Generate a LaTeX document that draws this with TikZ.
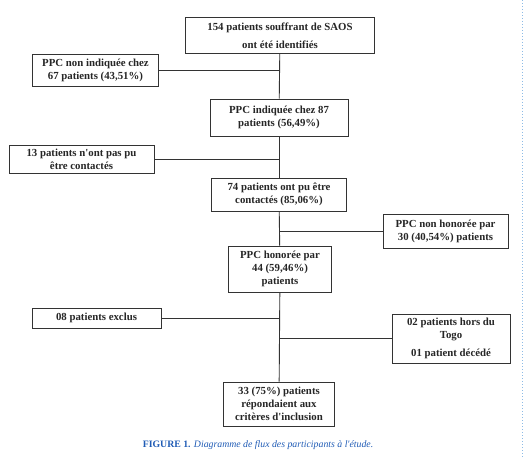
\documentclass[tikz,border=0pt]{standalone}
\usepackage{fontspec}
\setmainfont{Liberation Serif}
\usepackage{xcolor}
\usetikzlibrary{positioning}
\definecolor{capblue}{HTML}{1F5BB5}
\definecolor{pageblue}{HTML}{8DBBE6}

\begin{document}
\begin{tikzpicture}[
      x=1pt, y=-1pt,
      box/.style={draw=black!80, line width=0.9pt, align=center, inner sep=1pt,
        font=\fontsize{10.8}{12.8}\selectfont\bfseries, text=black!85},
      link/.style={draw=black!80, line width=0.9pt}
    ]
      \useasboundingbox (0,0) rectangle (529,457);
      % main column
      \node[box, minimum width=189pt, minimum height=36pt] (saos) at (280,35.5)
        {154 patients souffrant de SAOS\\[5pt]ont été identifiés};
      \node[box, minimum width=138pt, minimum height=37pt] (indiq) at (279,117.5)
        {PPC indiquée chez 87\\patients (56,49\%)};
      \node[box, minimum width=135pt, minimum height=33pt] (contact) at (279,194.5)
        {74 patients ont pu être\\contactés (85,06\%)};
      \node[box, minimum width=103pt, minimum height=46pt] (honor) at (280,269)
        {PPC honorée par\\44 (59,46\%)\\patients};
      \node[box, minimum width=111pt, minimum height=44pt] (inclus) at (279,404)
        {33 (75\%) patients\\répondaient aux\\critères d\textquotesingle inclusion};
      % side boxes
      \node[box, minimum width=126pt, minimum height=32pt] (nonind) at (95.5,70.5)
        {PPC non indiquée chez\\67 patients (43,51\%)};
      \node[box, minimum width=145pt, minimum height=28pt] (noncont) at (81.5,159.5)
        {13 patients n\textquotesingle ont pas pu\\être contactés};
      \node[box, minimum width=125pt, minimum height=34pt] (nonhon) at (445.5,231)
        {PPC non honorée par\\30 (40,54\%) patients};
      \node[box, minimum width=129pt, minimum height=20pt] (exclus) at (96.5,318)
        {08 patients exclus};
      \node[box, minimum width=118pt, minimum height=49pt] (sortis) at (451,338.5)
        {02 patients hors du\\Togo\\[5pt]01 patient décédé};
      % branch points on the spine
      \coordinate (b1) at (279,70.5);
      \coordinate (b2) at (279,159.5);
      \coordinate (b3) at (279,231);
      \coordinate (b4) at (279,318);
      \coordinate (b5) at (279,338.5);
      % connectors
      \draw[link] (saos) -- (indiq);
      \draw[link] (indiq) -- (contact);
      \draw[link] (contact) -- (honor);
      \draw[link] (honor) -- (inclus);
      \draw[link] (nonind) -- (b1);
      \draw[link] (noncont) -- (b2);
      \draw[link] (b3) -- (nonhon);
      \draw[link] (exclus) -- (b4);
      \draw[link] (b5) -- (sortis);
      % caption
      \node[text=capblue, font=\fontsize{9.8}{11}\selectfont] (caption) at (258,445)
        {\textbf{FIGURE 1.} \textit{Diagramme de flux des participants à l\textquotesingle étude.}};
      \draw[pageblue, dotted, line width=1pt] (522.5,0) -- (522.5,457);
  \end{tikzpicture}
\end{document}
